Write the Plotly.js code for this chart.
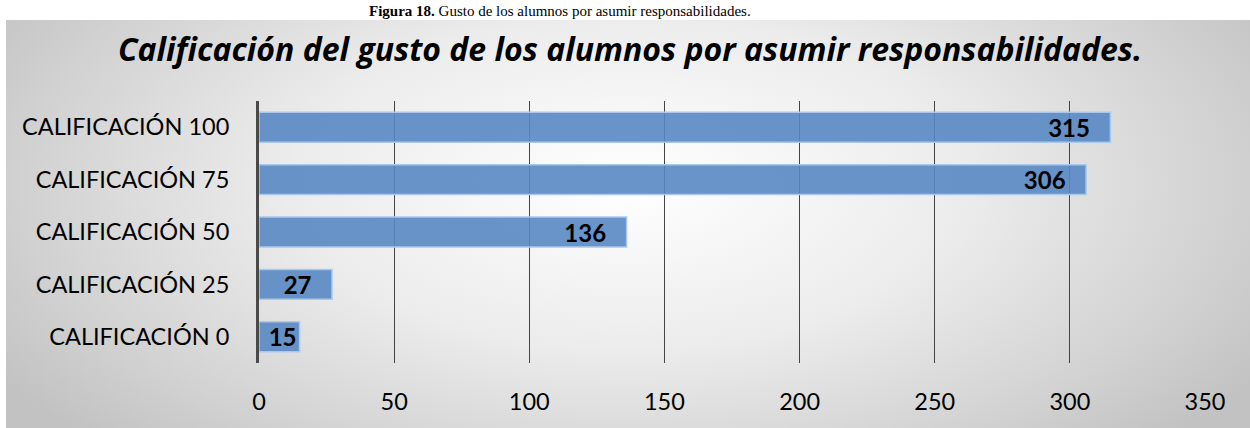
<!DOCTYPE html>
<html>
<head>
<meta charset="utf-8">
<script src="https://cdn.plot.ly/plotly-3.0.1.min.js"></script>
<style>
  html, body { margin: 0; padding: 0; background: #ffffff; }
  #bg { position: absolute; left: 6px; top: 20px; width: 1244px; height: 408px;
        background: radial-gradient(ellipse 60% 90% at 50% 40%, #ffffff 0%, #ececec 45%, #d2d2d2 80%, #c2c2c2 100%); }
  #chart { position: absolute; left: 0; top: 0; width: 1250px; height: 428px; }
</style>
</head>
<body>
<div id="bg"></div>
<div id="chart"></div>
<script>
const categories = ["CALIFICACIÓN 0", "CALIFICACIÓN 25", "CALIFICACIÓN 50", "CALIFICACIÓN 75", "CALIFICACIÓN 100"];
const values = [15, 27, 136, 306, 315];
const tickValues = [0, 50, 100, 150, 200, 250, 300, 350];
const chartTitle = "Calificación del gusto de los alumnos por asumir responsabilidades.";
const caption = "<b>Figura 18.</b> Gusto de los alumnos por asumir responsabilidades.";

// labels sit inside the bar end with a small inset (short bars get no inset)
const labels = values.map(v => v >= 20 ? String(v) + "\u00a0\u00a0\u00a0" : String(v));

const trace = {
  type: "bar",
  orientation: "h",
  y: categories,
  x: values,
  text: labels,
  textposition: "inside",
  insidetextanchor: "end",
  constraintext: "none",
  textangle: 0,
  textfont: { family: "Lato, 'Noto Sans', sans-serif", size: 24, color: "#000000", weight: "bold" },
  marker: { color: "rgba(88,136,196,0.9)", line: { color: "rgba(170,200,235,1)", width: 1.5 } },
  hoverinfo: "skip"
};

const layout = {
  width: 1250,
  height: 428,
  paper_bgcolor: "rgba(0,0,0,0)",
  plot_bgcolor: "rgba(0,0,0,0)",
  margin: { l: 259, r: 45, t: 101, b: 65 },
  bargap: 0.43,
  showlegend: false,
  font: { family: "Lato, 'Noto Sans', sans-serif", color: "#000000" },
  title: {
    text: "<b><i>" + chartTitle + "</i></b>",
    font: { family: "'Open Sans', 'Noto Sans', sans-serif", size: 32, color: "#000000" },
    x: 630 / 1250, xanchor: "center", xref: "container",
    y: 1 - 50 / 428, yref: "container", yanchor: "middle"
  },
  xaxis: {
    range: [0, 350],
    tickvals: tickValues,
    ticktext: tickValues.map(String),
    showgrid: true,
    gridcolor: "#444444",
    gridwidth: 1,
    zeroline: false,
    showline: false,
    ticks: "",
    ticklabelstandoff: 22,
    tickfont: { size: 23.5, color: "#000000" },
    fixedrange: true
  },
  yaxis: {
    type: "category",
    categoryorder: "array",
    categoryarray: categories,
    showgrid: false,
    zeroline: false,
    showline: true,
    linecolor: "#4a4a4a",
    linewidth: 3,
    ticks: "",
    ticklabelstandoff: 22,
    tickfont: { size: 23.5, color: "#000000" },
    fixedrange: true
  },
  annotations: [{
    text: caption,
    xref: "paper", yref: "paper",
    x: (560 - 259) / 946, xanchor: "center",
    y: (363 - 1) / 262, yanchor: "top",
    showarrow: false,
    font: { family: "'Liberation Serif', 'DejaVu Serif', serif", size: 15, color: "#000000" }
  }]
};

Plotly.newPlot("chart", [trace], layout, { displayModeBar: false, staticPlot: true });
</script>
</body>
</html>
